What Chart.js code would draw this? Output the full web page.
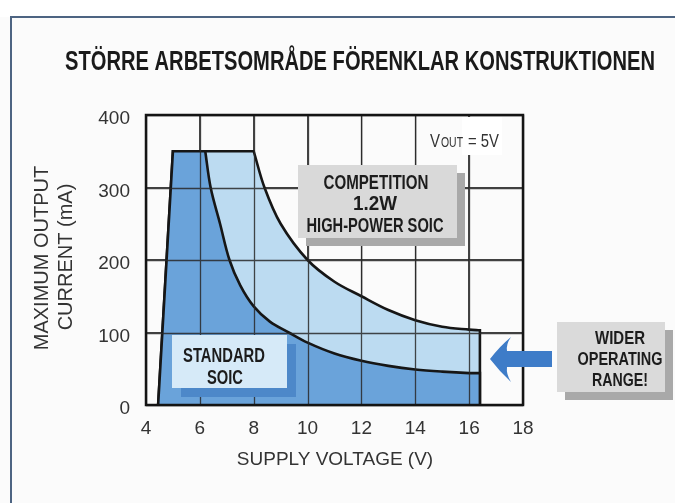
<!DOCTYPE html>
<html><head><meta charset="utf-8">
<script src="https://cdn.jsdelivr.net/npm/chart.js@4.4.0/dist/chart.umd.min.js"></script>
<style>html,body{margin:0;padding:0;background:#fbfbfb;}canvas{display:block;background:linear-gradient(#ffffff 0, #ffffff 17px, #fbfbfb 17px);}</style>
</head><body>
<canvas id="c" width="675" height="503"></canvas>
<script>
// ---- data ----
const xTicks = [4, 6, 8, 10, 12, 14, 16, 18];
const yTicks = [0, 100, 200, 300, 400];
// Standard SOIC safe operating area (corner points repeated to keep corners sharp)
const standardVoltage = [4.45, 5.0, 5.0, 6.2, 6.2, 6.4, 6.75, 7.1, 7.5, 8.0, 8.6, 9.3, 10, 11, 12, 13, 14, 15, 16, 16.4, 16.4, 16.4];
const standardCurrent = [0, 350, 350, 350, 350, 300, 250, 200, 165, 136, 115, 100, 86, 71, 61, 54, 49, 46, 44, 44, 44, 0];
// Competition 1.2W high-power SOIC
const competitionVoltage = [4.45, 5.0, 5.0, 8.0, 8.0, 8.4, 9.0, 10, 11, 12, 13, 14, 15, 16, 16.4, 16.4, 16.4];
const competitionCurrent = [0, 350, 350, 350, 350, 300, 250, 200, 170, 150, 131, 117, 108, 104, 103, 103, 0];

const toPts = (xs, ys) => xs.map((x, i) => ({x, y: ys[i]}));
const SANS = "'Liberation Sans', Arial, Helvetica, sans-serif";
const COND = "'Liberation Sans Narrow', 'Liberation Sans', Arial, sans-serif";
const GRID = 'rgba(40,40,40,0.85)';

function txt(c, s, x, y, font, color, maxW, align, base) {
  c.font = font; c.fillStyle = color; c.textAlign = align || 'center'; c.textBaseline = base || 'middle';
  if (maxW) c.fillText(s, x, y, maxW); else c.fillText(s, x, y);
}
function shadowBox(c, x, y, w, h, fill, shadow, off) {
  c.fillStyle = shadow; c.fillRect(x + off, y + off, w, h);
  c.fillStyle = fill; c.fillRect(x, y, w, h);
}

const deco = {
  id: 'deco',
  afterDatasetsDraw(chart) {
    // grid lines drawn above the filled areas (as in the printed chart)
    const c = chart.ctx, a = chart.chartArea;
    c.save();
    c.strokeStyle = GRID; c.lineWidth = 1.3;
    c.beginPath();
    chart.scales.x.ticks.forEach(t => {
      const px = Math.round(chart.scales.x.getPixelForValue(t.value)) + 0.5;
      c.moveTo(px, a.top); c.lineTo(px, a.bottom);
    });
    chart.scales.y.ticks.forEach(t => {
      const py = Math.round(chart.scales.y.getPixelForValue(t.value)) + 0.5;
      c.moveTo(a.left, py); c.lineTo(a.right, py);
    });
    c.stroke();
    c.restore();
  },
  afterDraw(chart) {
    const c = chart.ctx, a = chart.chartArea;
    c.save();
    // white patch behind the VOUT label
    c.fillStyle = '#ffffff'; c.fillRect(462, a.top + 2, 40, 38);
    // panel frame
    c.strokeStyle = '#4d6482'; c.lineWidth = 2;
    c.beginPath(); c.moveTo(11, 503); c.lineTo(11, 17); c.lineTo(675, 17); c.stroke();
    // plot frame
    c.strokeStyle = '#141414'; c.lineWidth = 2.5;
    c.strokeRect(a.left, a.top, a.right - a.left, a.bottom - a.top);
    const dark = '#1c1c1c';
    // title
    txt(c, 'STÖRRE ARBETSOMRÅDE FÖRENKLAR KONSTRUKTIONEN', 360, 63, 'bold 27px ' + COND, '#1a1a1a', 590);
    // axis titles
    txt(c, 'SUPPLY VOLTAGE (V)', 335, 460, '19px ' + SANS, '#333', 215);
    c.save(); c.translate(42, 258); c.rotate(-Math.PI / 2);
    txt(c, 'MAXIMUM OUTPUT', 0, 0, '20px ' + SANS, '#333', 187);
    c.restore();
    c.save(); c.translate(66, 257); c.rotate(-Math.PI / 2);
    txt(c, 'CURRENT (mA)', 0, 0, '20px ' + SANS, '#333', 150);
    c.restore();
    // VOUT = 5V
    txt(c, 'V', 430, 147, '19px ' + COND, '#333', 10, 'left', 'alphabetic');
    txt(c, 'OUT', 441, 147, '14px ' + COND, '#333', 22, 'left', 'alphabetic');
    txt(c, '= 5V', 468, 147, '19px ' + COND, '#333', 31, 'left', 'alphabetic');
    // competition box
    shadowBox(c, 298, 165, 159, 73, '#d9d9d9', '#a9a9a9', 8);
    txt(c, 'COMPETITION', 376, 183, 'bold 21px ' + COND, dark, 105);
    txt(c, '1.2W', 375, 204, 'bold 21px ' + COND, dark, 44);
    txt(c, 'HIGH-POWER SOIC', 375, 226, 'bold 21px ' + COND, dark, 137);
    // standard box
    shadowBox(c, 172, 335, 115, 53, '#d6eaf8', '#4d88c9', 9);
    txt(c, 'STANDARD', 224, 356, 'bold 20px ' + COND, dark, 82);
    txt(c, 'SOIC', 225, 378, 'bold 20px ' + COND, dark, 36);
    // wider operating range box
    shadowBox(c, 557, 322, 108, 70, '#dadada', '#a9a9a9', 8);
    txt(c, 'WIDER', 620, 339, 'bold 19px ' + COND, dark, 50);
    txt(c, 'OPERATING', 620, 360, 'bold 19px ' + COND, dark, 85);
    txt(c, 'RANGE!', 620, 381, 'bold 19px ' + COND, dark, 56);
    // arrow
    c.fillStyle = '#3e7cc8';
    c.beginPath();
    c.moveTo(490, 359);
    c.quadraticCurveTo(500, 346, 511, 337);
    c.quadraticCurveTo(506, 344, 507, 351);
    c.lineTo(552, 351); c.lineTo(552, 367); c.lineTo(507, 367);
    c.quadraticCurveTo(506, 374, 511, 382);
    c.quadraticCurveTo(500, 372, 490, 359);
    c.closePath(); c.fill();
    c.restore();
  }
};

new Chart(document.getElementById('c'), {
  type: 'scatter',
  data: {
    datasets: [
      {
        label: 'Standard SOIC',
        data: toPts(standardVoltage, standardCurrent),
        showLine: true, tension: 0.35, fill: 'origin',
        backgroundColor: '#6aa3da', borderColor: '#161616', borderWidth: 2.6,
        pointRadius: 0
      },
      {
        label: 'Competition 1.2W high-power SOIC',
        data: toPts(competitionVoltage, competitionCurrent),
        showLine: true, tension: 0.35, fill: 'origin',
        backgroundColor: '#bcdbf1', borderColor: '#161616', borderWidth: 2.6,
        pointRadius: 0
      }
    ]
  },
  options: {
    responsive: false, animation: false, devicePixelRatio: 1,
    layout: {padding: {left: 0, top: 115, right: 152, bottom: 0}},
    plugins: {legend: {display: false}, tooltip: {enabled: false}, title: {display: false}},
    scales: {
      x: {
        type: 'linear', min: 4, max: 18,
        afterBuildTicks: s => { s.ticks = xTicks.map(v => ({value: v})); },
        afterFit: s => { s.height = 98; },
        grid: {color: GRID, lineWidth: 1.3, drawTicks: false},
        border: {display: false},
        ticks: {font: {family: SANS, size: 19}, color: '#333', padding: 12, maxRotation: 0, autoSkip: false}
      },
      y: {
        type: 'linear', min: 0, max: 400,
        afterBuildTicks: s => { s.ticks = yTicks.map(v => ({value: v})); },
        afterFit: s => { s.width = 146; },
        grid: {color: GRID, lineWidth: 1.3, drawTicks: false},
        border: {display: false},
        ticks: {font: {family: SANS, size: 19}, color: '#333', padding: 16, labelOffset: 4}
      }
    }
  },
  plugins: [deco]
});
</script>
</body></html>
